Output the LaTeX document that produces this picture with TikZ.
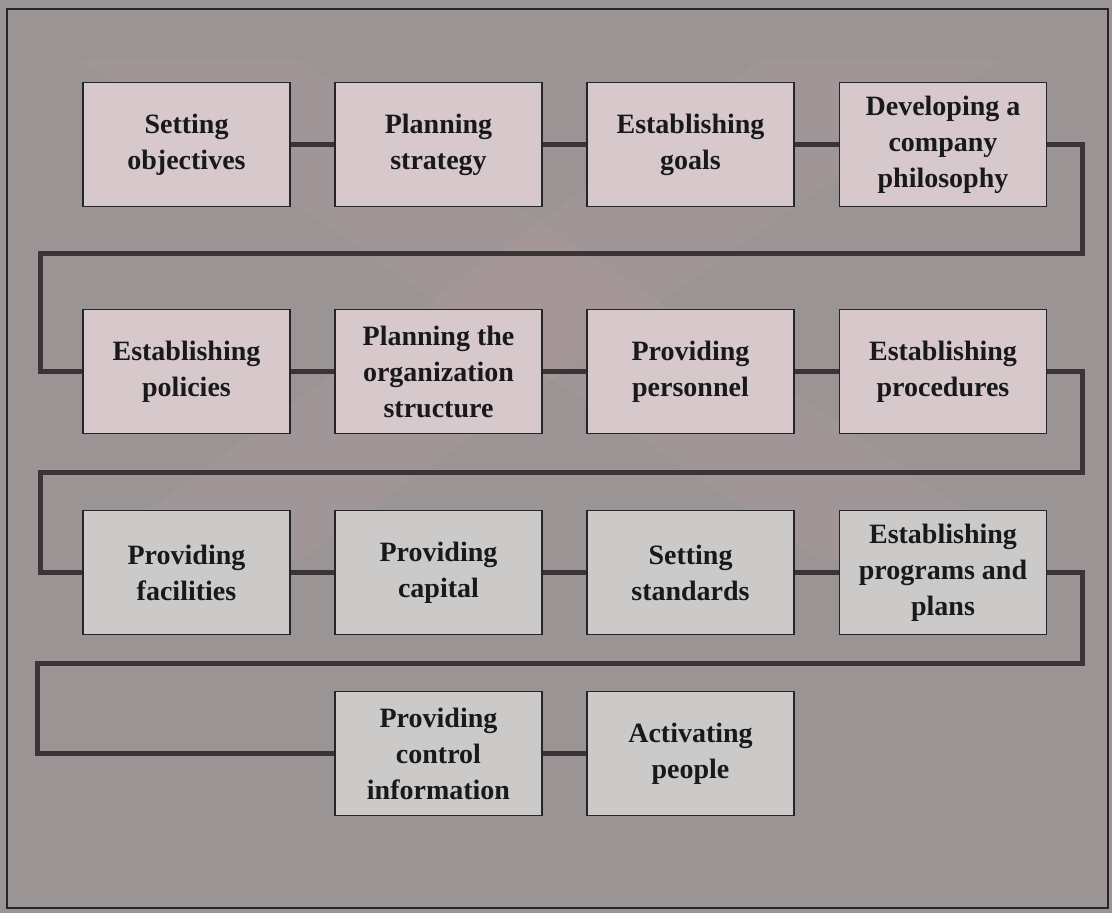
\documentclass[tikz,border=0pt]{standalone}
\usepackage{fontspec}
\setmainfont{Liberation Serif}
\begin{document}
\begin{tikzpicture}[x=1pt,y=-1pt,
  stepbox/.style={draw=black!85, line width=1.2pt, fill=boxfill,
    minimum width=207pt, minimum height=124pt, inner sep=0pt,
    align=center, text=black!90,
    font=\fontsize{28}{36}\selectfont\bfseries},
  lowbox/.style={stepbox, fill=boxgray},
  link/.style={draw=linkc, line width=5pt, line join=miter}]
\definecolor{bgc}{RGB}{154,148,149}
\definecolor{boxfill}{RGB}{214,200,203}
\definecolor{boxgray}{RGB}{204,201,201}
\definecolor{linkc}{RGB}{58,52,54}
\useasboundingbox (0,0) rectangle (1112,913);
% background panel with faint tinted diagonal bands, and frame
\fill[bgc] (0,0) rectangle (1112,913);
\fill[pink!60!gray, opacity=0.12] (80,60) -- (300,60) -- (1040,560) -- (820,560) -- cycle;
\fill[pink!60!gray, opacity=0.12] (760,60) -- (1000,60) -- (300,560) -- (80,560) -- cycle;
\draw[black!85, line width=2pt] (7,9) rectangle (1108,908);

% row 1
\node[stepbox] (n1) at (186.5,144.5) {Setting\\objectives};
\node[stepbox] (n2) at (438.5,144.5) {Planning\\strategy};
\node[stepbox] (n3) at (690.5,144.5) {Establishing\\goals};
\node[stepbox] (n4) at (943,144.5) {Developing a\\company\\philosophy};
% row 2
\node[stepbox] (n5) at (186.5,371.5) {Establishing\\policies};
\node[stepbox] (n6) at (438.5,371.5) {Planning the\\organization\\structure};
\node[stepbox] (n7) at (690.5,371.5) {Providing\\personnel};
\node[stepbox] (n8) at (943,371.5) {Establishing\\procedures};
% row 3
\node[lowbox] (n9) at (186.5,572.5) {Providing\\facilities};
\node[lowbox] (n10) at (438.5,572.5) {Providing\\capital};
\node[lowbox] (n11) at (690.5,572.5) {Setting\\standards};
\node[lowbox] (n12) at (943,572.5) {Establishing\\programs and\\plans};
% row 4
\node[lowbox] (n13) at (438.5,753.5) {Providing\\control\\information};
\node[lowbox] (n14) at (690.5,753.5) {Activating\\people};

% turning points of the serpentine path
\coordinate (ra) at (1082,253);
\coordinate (la) at (40,253);
\coordinate (rb) at (1082,472);
\coordinate (lb) at (40,472);
\coordinate (rc) at (1082,663);
\coordinate (lc) at (37,663);

\path[link] (n1) -- (n2);
\path[link] (n2) -- (n3);
\path[link] (n3) -- (n4);
\path[link] (n4.east) -| (ra) -- (la) |- (n5.west);
\path[link] (n5) -- (n6);
\path[link] (n6) -- (n7);
\path[link] (n7) -- (n8);
\path[link] (n8.east) -| (rb) -- (lb) |- (n9.west);
\path[link] (n9) -- (n10);
\path[link] (n10) -- (n11);
\path[link] (n11) -- (n12);
\path[link] (n12.east) -| (rc) -- (lc) |- (n13.west);
\path[link] (n13) -- (n14);
\end{tikzpicture}
\end{document}
